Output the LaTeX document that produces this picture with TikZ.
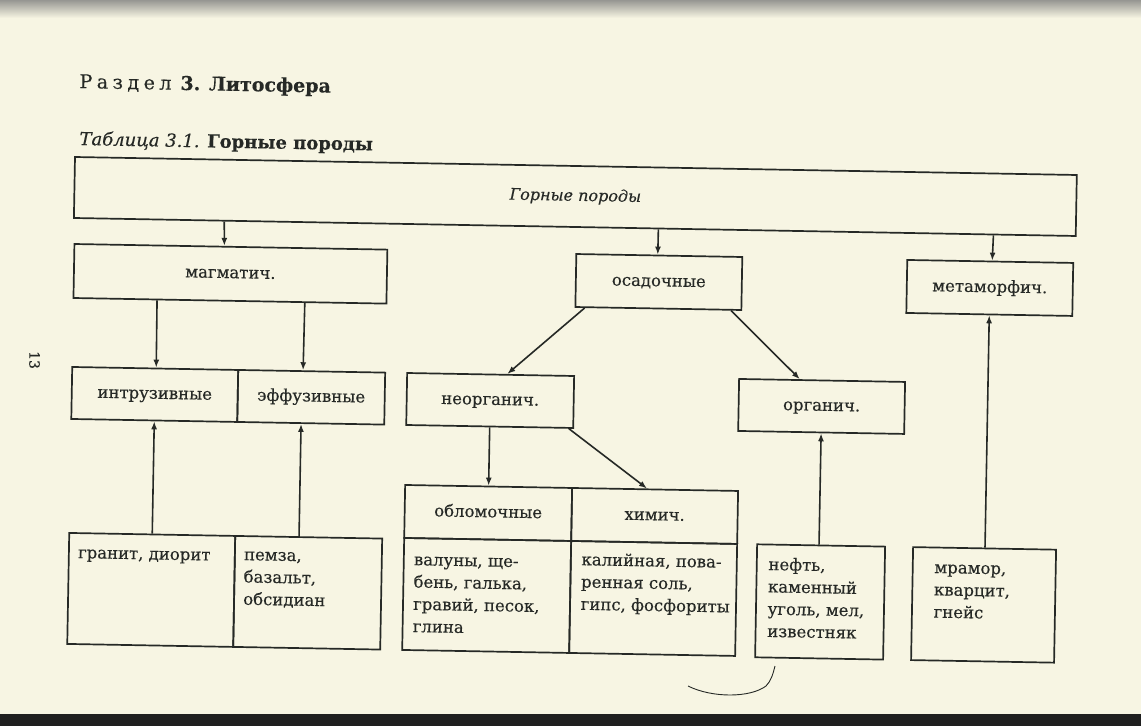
\documentclass[tikz,border=0pt]{standalone}
\usepackage{fontspec}
\setmainfont{DejaVu Serif}
\newfontfamily\bodyfont[FakeBold=0.35]{DejaVu Serif}
\usetikzlibrary{arrows.meta,calc}
\definecolor{paper}{RGB}{247,245,227}
\definecolor{ink}{RGB}{38,41,38}
\begin{document}
\begin{tikzpicture}[x=1pt,y=-1pt,
  box/.style={draw=ink, line width=1.7pt, inner sep=0pt, text height=8.6pt, text depth=0pt, text=ink, font=\bodyfont\fontsize{16.5}{22}\selectfont},
  arr/.style={draw=ink, line width=1.6pt, -{Latex[length=8pt,width=6pt]}},
  txt/.style={inner sep=0pt, anchor=base west, text=ink, font=\bodyfont\fontsize{16.5}{22.3}\selectfont}]
\useasboundingbox (0,0) rectangle (1141,726);
\fill[paper] (0,0) rectangle (1141,726);
\shade[top color={rgb,255:red,150;green,150;blue,146}, bottom color=paper] (0,0) rectangle (1141,18);
\fill[black!88] (0,714) rectangle (1141,726);
\node[rotate=-90, inner sep=0pt, text=ink, font=\bodyfont\fontsize{14}{16}\selectfont] (pg) at (34.5,360) {13};
\draw[ink, line width=0.9pt] (688,686) .. controls (712,698) and (750,698) .. (766,686) .. controls (771,681) and (773,674) .. (775,666);
\begin{scope}[shift={(75,157)}, rotate=-1.03, transform shape]
  % titles
  \node[inner sep=0pt, anchor=base west, text=ink, font=\bodyfont\fontsize{19}{22}\selectfont] (t1) at (3,-69)
    {Р\hspace{4.5pt}а\hspace{4.5pt}з\hspace{4.5pt}д\hspace{4.5pt}е\hspace{4.5pt}л\hspace{9pt}\textbf{3. Литосфера}};
  \node[inner sep=0pt, anchor=base west, text=ink, font=\bodyfont\fontsize{18}{22}\selectfont] (t2) at (4,-12)
    {\textit{Таблица 3.1.} \textbf{Горные породы}};
  % top
  \node[box, minimum width=1002pt, minimum height=61pt, font=\bodyfont\fontsize{16}{20}\selectfont\itshape] (top) at (501,30.5) {Горные породы};
  % row 2
  \node[box, minimum width=313pt, minimum height=54pt] (magm) at (157.5,114) {магматич.};
  \node[box, minimum width=166pt, minimum height=53pt] (osad) at (586,114.5) {осадочные};
  \node[box, minimum width=166pt, minimum height=53pt] (meta) at (917,114.5) {метаморфич.};
  % row 3
  \node[box, minimum width=166pt, minimum height=52pt] (intr) at (84,236) {интрузивные};
  \node[box, minimum width=147pt, minimum height=52pt] (effu) at (240.5,236) {эффузивные};
  \node[box, minimum width=167pt, minimum height=52pt] (neorg) at (419.5,236) {неорганич.};
  \node[box, minimum width=166pt, minimum height=52pt] (org) at (751,236) {органич.};
  % row 4
  \node[box, minimum width=167pt, minimum height=53pt] (oblh) at (419.5,348.5) {обломочные};
  \node[box, minimum width=166pt, minimum height=53pt] (himh) at (586,348.5) {химич.};
  \node[box, minimum width=167pt, minimum height=112pt] (oblb) at (419.5,431) {};
  \node[box, minimum width=166pt, minimum height=112pt] (himb) at (586,431) {};
  % bottom
  \node[box, minimum width=166pt, minimum height=111pt] (gran) at (84,431.5) {};
  \node[box, minimum width=147pt, minimum height=111pt] (pemz) at (240.5,431.5) {};
  \node[box, minimum width=128pt, minimum height=113pt] (neft) at (753,431.5) {};
  \node[box, minimum width=143pt, minimum height=113pt] (mram) at (916.5,431.5) {};
  % texts
  \node[txt] (tgran) at (10,401) {гранит, диорит};
  \node[txt] (tpemz) at (176,400) {\begin{tabular}[t]{@{}l@{}}пемза,\\базальт,\\обсидиан\end{tabular}};
  \node[txt] (tobl) at (346,402) {\begin{tabular}[t]{@{}l@{}}валуны, ще-\\бень, галька,\\гравий, песок,\\глина\end{tabular}};
  \node[txt] (thim) at (513.5,399) {\begin{tabular}[t]{@{}l@{}}калийная, пова-\\ренная соль,\\гипс, фосфориты\end{tabular}};
  \node[txt] (tneft) at (700.5,400.5) {\begin{tabular}[t]{@{}l@{}}нефть,\\каменный\\уголь, мел,\\известняк\end{tabular}};
  \node[txt] (tmram) at (866.5,400.5) {\begin{tabular}[t]{@{}l@{}}мрамор,\\кварцит,\\гнейс\end{tabular}};
  % connectors
  \draw[arr] ($(top.south west)!0.1507!(top.south east)$) -- ($(magm.north west)!0.4792!(magm.north east)$);
  \draw[arr] ($(top.south west)!0.5833!(top.south east)$) -- ($(osad.north west)!0.4910!(osad.north east)$);
  \draw[arr] ($(top.south west)!0.9172!(top.south east)$) -- ($(meta.north west)!0.5120!(meta.north east)$);
  \draw[arr] ($(magm.south west)!0.2684!(magm.south east)$) -- ($(intr.north west)!0.5060!(intr.north east)$);
  \draw[arr] ($(magm.south west)!0.7380!(magm.south east)$) -- ($(effu.north west)!0.4422!(effu.north east)$);
  \draw[arr] ($(osad.south west)!0.0602!(osad.south east)$) -- ($(neorg.north west)!0.5988!(neorg.north east)$);
  \draw[arr] ($(osad.south west)!0.9337!(osad.south east)$) -- ($(org.north west)!0.3675!(org.north east)$);
  \draw[arr] (neorg.south) -- (oblh.north);
  \draw[arr] ($(neorg.south west)!0.970!(neorg.south east)$) -- ($(himh.north west)!0.4518!(himh.north east)$);
  \draw[arr] (gran.north) -- (intr.south);
  \draw[arr] ($(pemz.north west)!0.435!(pemz.north east)$) -- ($(effu.south west)!0.435!(effu.south east)$);
  \draw[arr] ($(neft.north west)!0.484!(neft.north east)$) -- (org.south);
  \draw[arr] ($(mram.north west)!0.503!(mram.north east)$) -- (meta.south);
\end{scope}
\end{tikzpicture}
\end{document}
